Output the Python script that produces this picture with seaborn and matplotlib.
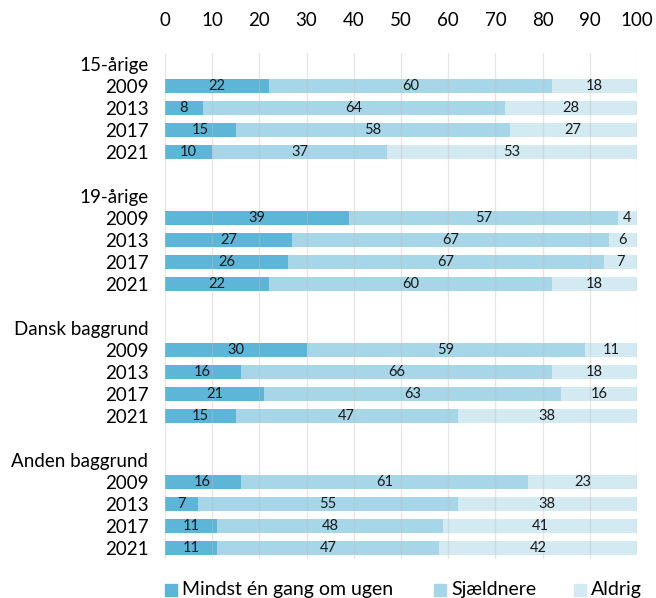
import numpy as np
import pandas as pd
import matplotlib
matplotlib.use("Agg")
import matplotlib.pyplot as plt
from matplotlib.patches import Rectangle
import seaborn as sns

# ── data ─────────────────────────────────────────────
GROUPS = ["15-årige", "19-årige", "Dansk baggrund", "Anden baggrund"]
YEARS = ["2009", "2013", "2017", "2021"]
WEEKLY = [[22, 8, 15, 10],
          [39, 27, 26, 22],
          [30, 16, 21, 15],
          [16, 7, 11, 11]]
RARELY = [[60, 64, 58, 37],
          [57, 67, 67, 60],
          [59, 66, 63, 47],
          [61, 55, 48, 47]]
NEVER = [[18, 28, 27, 53],
         [4, 6, 7, 18],
         [11, 18, 16, 38],
         [23, 38, 41, 42]]
SERIES = ["Mindst én gang om ugen", "Sjældnere", "Aldrig"]
COLORS = ["#5db5d7", "#a6d6e8", "#d3eaf3"]

# ── build row order: header, 4 years, blank ──────────
order, tick_labels, rows = [], [], []
for gi, g in enumerate(GROUPS):
    order.append(f"h{gi}")
    tick_labels.append(g)
    for yi, y in enumerate(YEARS):
        key = f"{gi}_{y}"
        order.append(key)
        tick_labels.append(y)
        rows.append({"key": key, "w": WEEKLY[gi][yi],
                     "r": RARELY[gi][yi], "n": NEVER[gi][yi]})
    if gi < len(GROUPS) - 1:
        order.append(f"b{gi}")
        tick_labels.append("")
df = pd.DataFrame(rows)
df["c1"] = df["w"]
df["c2"] = df["w"] + df["r"]
df["c3"] = df["w"] + df["r"] + df["n"]

plt.rcParams["font.family"] = ["Lato", "DejaVu Sans"]
W, H = 656, 598
fig = plt.figure(figsize=(W / 100, H / 100), dpi=100)
ax = fig.add_axes([0.2515, 0.0655, 0.7195, 0.8462])

for col, color in zip(["c3", "c2", "c1"], COLORS[::-1]):
    sns.barplot(data=df, x=col, y="key", order=order, orient="h",
                color=color, width=0.64, saturation=1, ax=ax, zorder=2)

# segment labels
pos = {k: i for i, k in enumerate(order)}
for _, r in df.iterrows():
    yy = pos[r["key"]]
    starts = [0, r["w"], r["w"] + r["r"]]
    for s, v in zip(starts, [r["w"], r["r"], r["n"]]):
        ax.text(s + v / 2, yy, f"{v}", ha="center", va="center",
                fontsize=10.5, color="#1a1a1a", zorder=4)

ax.set_xlim(0, 100)
ax.set_ylim(len(order) - 0.5, -0.5)
ax.set_xticks(np.arange(0, 101, 10))
ax.xaxis.tick_top()
ax.tick_params(axis="x", length=0, pad=17, labelsize=13.5)
ax.tick_params(axis="y", length=0, pad=12, labelsize=13.5)
ax.set_yticks(range(len(order)))
ax.set_yticklabels(tick_labels)
ax.set_xlabel("")
ax.set_ylabel("")
ax.grid(axis="x", color="#bfbfbf", alpha=0.4, linewidth=0.9, zorder=3)
ax.set_axisbelow(False)
for sp in ax.spines.values():
    sp.set_visible(False)

# legend: one entry at a time, placed like the original
for x0, label, color in zip([165, 434, 574], SERIES, COLORS):
    fig.patches.append(Rectangle((x0 / W, 1 - 596 / H), 12 / W, 12 / H,
                                 transform=fig.transFigure, color=color))
    fig.text((x0 + 17) / W, 1 - 595 / H, label, fontsize=14,
             ha="left", va="baseline")

fig.savefig("out.png", dpi=100)
